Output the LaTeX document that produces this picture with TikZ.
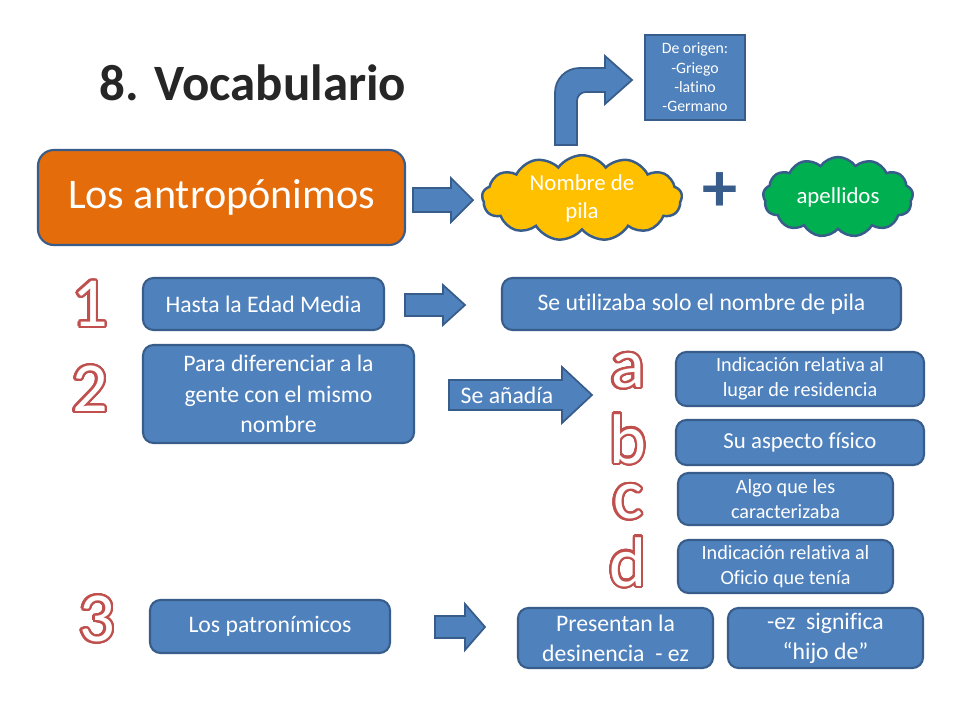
\documentclass[tikz,border=0pt]{standalone}
\usepackage{fontspec}
\setmainfont{Carlito}[Ligatures=NoCommon]
\usepackage{contour}
\contourlength{1.3pt}
\contournumber{32}
\usetikzlibrary{shapes.symbols}
\definecolor{bfill}{HTML}{4F81BD}
\definecolor{bdraw}{HTML}{385D8A}
\definecolor{ofill}{HTML}{E46C0A}
\definecolor{lred}{HTML}{C0504D}
\definecolor{yfill}{HTML}{FFC000}
\definecolor{gfill}{HTML}{00B050}
\tikzset{
 bx/.style={draw=bdraw,line width=1.2pt,fill=bfill,rounded corners=6pt,text=white,align=center,inner sep=0pt},
 sq/.style={draw=bdraw,line width=1.2pt,fill=bfill,text=white,align=center,inner sep=0pt},
 arr/.style={draw=bdraw,line width=1pt,fill=bfill},
 cl/.style={cloud,cloud puffs=13,cloud puff arc=110,aspect=2.4,draw=bdraw,line width=1.4pt,text=white,align=center,inner sep=0pt},
 lett/.style={font=\fontsize{40}{40}\selectfont},
}
\newcommand{\redout}[1]{\contour{lred}{\textcolor{white}{#1}}}
\newcommand{\blockarr}[6]{% x1 x2 yc shaft head headlen
 \path[arr] (#1,#3-#4) -- (#2-#6,#3-#4) -- (#2-#6,#3-#5) -- (#2,#3) -- (#2-#6,#3+#5) -- (#2-#6,#3+#4) -- (#1,#3+#4) -- cycle;}
\begin{document}
\begin{tikzpicture}[x=0.02cm,y=-0.02cm]
\useasboundingbox (0,0) rectangle (960,720);
\fill[white] (0,0) rectangle (960,720);
% title
\node (title) at (253,84) {\contourlength{1.5pt}\contour{white}{\textcolor[HTML]{262626}{\bfseries\fontsize{29}{29}\selectfont 8. Vocabulario}}};
% main
\node[bx,fill=ofill,minimum width=367*0.02cm,minimum height=95*0.02cm,rounded corners=9pt,font=\fontsize{24}{24}\selectfont] (main) at (221.5,197.5) {Los antropónimos};
\blockarr{413}{473}{200}{12}{22}{22}
\node[cl,fill=yfill,minimum width=200*0.02cm,minimum height=80*0.02cm,font=\fontsize{13}{16}\selectfont] (np) at (582,198) {Nombre de\\pila};
\node[text=bdraw,font=\bfseries\fontsize{40}{40}\selectfont] (plus) at (720,192) {+};
\node[cl,fill=gfill,minimum width=150*0.02cm,minimum height=80*0.02cm,font=\fontsize{13}{16}\selectfont] (ap) at (838,197) {apellidos};
% bent arrow
\path[arr] (555,145) [rounded corners=14pt]-- (555,68) [sharp corners]-- (605,68) -- (605,56) -- (632,80) -- (605,104) -- (605,92) [rounded corners=5pt]-- (577,92) [sharp corners]-- (577,145) -- cycle;
\node[sq,minimum width=100*0.02cm,minimum height=85*0.02cm,font=\fontsize{9}{11}\selectfont] (orig) at (695,77.5) {De origen:\\-Griego\\-latino\\-Germano};
% row 1
\node[lett] (n1) at (90,305) {\redout{1}};
\node[bx,minimum width=241*0.02cm,minimum height=52*0.02cm,font=\fontsize{13.5}{16}\selectfont] (r1a) at (263.5,304) {Hasta la Edad Media};
\blockarr{405}{465}{305}{11}{20}{22}
\node[bx,minimum width=399*0.02cm,minimum height=52*0.02cm,font=\fontsize{13.5}{16}\selectfont] (r1b) at (701.5,304) {Se utilizaba solo el nombre de pila};
% row 2
\node[lett] (n2) at (90,390) {\redout{2}};
\node[bx,minimum width=271*0.02cm,minimum height=98*0.02cm,font=\fontsize{13.5}{17.5}\selectfont] (r2a) at (278.5,394) {Para diferenciar a la\\gente con el mismo\\nombre};
\blockarr{449}{592}{395}{15}{28}{30}
\node[text=white,font=\fontsize{13.5}{16}\selectfont] (sa) at (507,395) {Se añadía};
\node[lett] (la) at (628,372) {\redout{a}};
\node[lett] (lb) at (628,440) {\redout{b}};
\node[lett] (lc) at (628,503) {\redout{c}};
\node[lett] (ld) at (628,563) {\redout{d}};
\node[bx,minimum width=248*0.02cm,minimum height=54*0.02cm,font=\fontsize{11.5}{14}\selectfont] (ba) at (800,379) {Indicación relativa al\\lugar de residencia};
\node[bx,minimum width=248*0.02cm,minimum height=45*0.02cm,font=\fontsize{13}{15}\selectfont] (bb) at (800,442.5) {Su aspecto físico};
\node[bx,minimum width=215*0.02cm,minimum height=52*0.02cm,font=\fontsize{11.5}{14}\selectfont] (bc) at (785.5,499) {Algo que les\\caracterizaba};
\node[bx,minimum width=215*0.02cm,minimum height=53*0.02cm,font=\fontsize{11.5}{14}\selectfont] (bd) at (785.5,566.5) {Indicación relativa al\\Oficio que tenía};
% row 3
\node[lett] (n3) at (97,620) {\redout{3}};
\node[bx,minimum width=240*0.02cm,minimum height=53*0.02cm,font=\fontsize{13.5}{16}\selectfont] (r3a) at (270,626.5) {Los patronímicos};
\blockarr{435}{485}{627}{11}{23}{20}
\node[bx,minimum width=195*0.02cm,minimum height=60*0.02cm,font=\fontsize{13.5}{17}\selectfont] (r3b) at (615.5,638) {Presentan la\\desinencia\ \ - ez};
\node[bx,minimum width=195*0.02cm,minimum height=60*0.02cm,font=\fontsize{13.5}{17}\selectfont] (r3c) at (825.5,638) {-ez\ \ significa\\“hijo de”};
\end{tikzpicture}
\end{document}
